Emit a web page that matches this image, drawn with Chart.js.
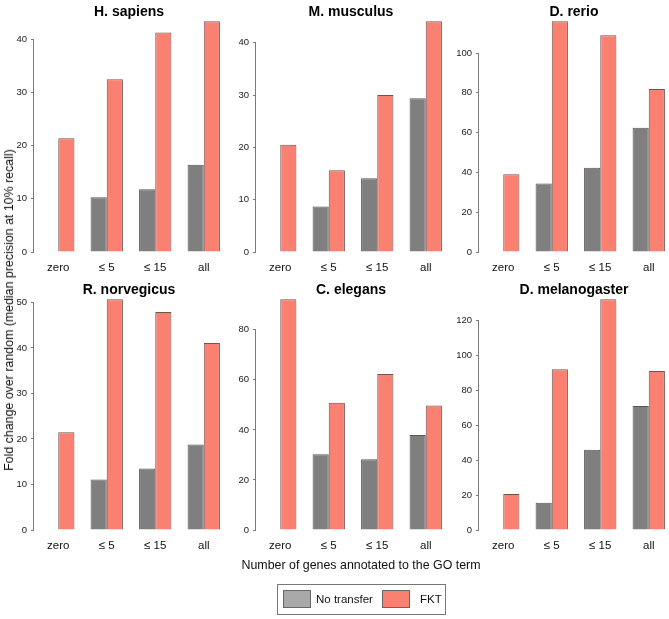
<!DOCTYPE html>
<html>
<head>
<meta charset="utf-8">
<script src="https://cdn.jsdelivr.net/npm/chart.js@4.4.1/dist/chart.umd.min.js"></script>
<style>
  body { margin: 0; background: #fff; overflow: hidden; }
  #wrap { position: relative; width: 669px; height: 619px; overflow: hidden; font-family: "Liberation Sans", Arial, sans-serif; }
  #wrap canvas { position: absolute; }
  .ytitle { position: absolute; left: 9px; top: 310px; transform: translate(-50%, -50%) rotate(-90deg); white-space: nowrap; font-size: 12.4px; color: #111; }
  .xtitle { position: absolute; left: 361px; top: 565px; transform: translate(-50%, -50%); white-space: nowrap; font-size: 12.4px; color: #111; }
  .legend { position: absolute; left: 277px; top: 584px; width: 169px; height: 31px; border: 1px solid #777; box-sizing: border-box; font-size: 11.5px; color: #111; }
  .legend span { position: absolute; top: 5px; width: 28px; height: 18px; border: 1px solid #666; box-sizing: border-box; }
  .legend b { position: absolute; top: 8px; font-weight: normal; }
</style>
</head>
<body>
<div id="wrap">
  <canvas id="c0" width="228" height="276"></canvas>
  <canvas id="c1" width="228" height="276"></canvas>
  <canvas id="c2" width="228" height="276"></canvas>
  <canvas id="c3" width="228" height="276"></canvas>
  <canvas id="c4" width="228" height="276"></canvas>
  <canvas id="c5" width="228" height="276"></canvas>
  <div class="ytitle">Fold change over random (median precision at 10% recall)</div>
  <div class="xtitle">Number of genes annotated to the GO term</div>
  <div class="legend" id="legend"></div>
</div>
<script>
// data
var categories = ["zero", "\u2264 5", "\u2264 15", "all"];
var species = ["H. sapiens", "M. musculus", "D. rerio", "R. norvegicus", "C. elegans", "D. melanogaster"];
var seriesNames = ["No transfer", "FKT"];

var noTransfer = [
  [null, 10.3, 11.8, 16.4],
  [null, 8.7, 14.1, 29.4],
  [null, 34.4, 42.4, 62.4],
  [null, 11.1, 13.5, 18.8],
  [null, 30.3, 28.3, 38.0],
  [null, 15.6, 45.9, 70.9]
];
var fkt = [
  [21.4, 32.5, 41.3, 43.4],
  [20.5, 15.6, 30.0, 44.1],
  [39.1, 116, 109, 81.9],
  [21.5, 50.7, 47.9, 41.1],
  [92.2, 50.8, 62.3, 49.7],
  [20.6, 92.0, 132, 90.9]
];
var yTicks = [
  [0, 10, 20, 30, 40],
  [0, 10, 20, 30, 40],
  [0, 20, 40, 60, 80, 100],
  [0, 10, 20, 30, 40, 50],
  [0, 20, 40, 60, 80],
  [0, 20, 40, 60, 80, 100, 120]
];

var barColors = ['#7f7f7f', '#fa8072'];
var legendColors = ['#a9a9a9', '#fa8072'];

// panel placement (canvas top-left)
var canvasLeft = [0, 222, 445];
var canvasTop = [0, 278];

var panelTitle = {
  id: 'panelTitle',
  afterDraw: function(chart, args, opts) {
    var a = chart.chartArea;
    var ctx = chart.ctx;
    ctx.save();
    ctx.font = 'bold 14px "Liberation Sans", Arial, sans-serif';
    ctx.fillStyle = '#000';
    ctx.textAlign = 'center';
    ctx.textBaseline = 'alphabetic';
    ctx.fillText(opts.text, (a.left + a.right) / 2 - 2, a.top + 4);
    ctx.restore();
  }
};

// R style axis line: only from first to last tick
var axisLine = {
  id: 'axisLine',
  afterDraw: function(chart) {
    var y = chart.scales.y;
    var ctx = chart.ctx;
    var x = Math.round(chart.chartArea.left) - 0.5;
    ctx.save();
    ctx.strokeStyle = '#7a7a7a';
    ctx.lineWidth = 1;
    ctx.beginPath();
    ctx.moveTo(x, y.getPixelForValue(y.ticks[0].value));
    ctx.lineTo(x, y.getPixelForValue(y.ticks[y.ticks.length - 1].value));
    ctx.stroke();
    ctx.restore();
  }
};

var i;
for (i = 0; i < 6; i++) {
  var cv = document.getElementById("c" + i);
  cv.style.left = canvasLeft[i % 3] + "px";
  cv.style.top = canvasTop[Math.floor(i / 3)] + "px";
  var peak = Math.max.apply(null, fkt[i].concat(noTransfer[i].filter(function(v) { return v !== null; })));

  (function(idx, yMax) {
    new Chart(cv, {
      type: 'bar',
      data: {
        labels: categories,
        datasets: [{
          label: seriesNames[0],
          data: noTransfer[idx],
          backgroundColor: barColors[0],
          borderColor: 'rgba(70,50,50,0.85)',
          borderWidth: 1
        }, {
          label: seriesNames[1],
          data: fkt[idx],
          backgroundColor: barColors[1],
          borderColor: 'rgba(90,50,50,0.85)',
          borderWidth: 1
        }]
      },
      options: {
        responsive: false,
        animation: false,
        devicePixelRatio: 1,
        layout: { padding: { top: 12, right: 0, left: 0, bottom: 0 } },
        datasets: { bar: { categoryPercentage: 2 / 3, barPercentage: 1 } },
        plugins: {
          legend: { display: false },
          tooltip: { enabled: false },
          panelTitle: { text: species[idx] }
        },
        scales: {
          x: {
            offset: true,
            grid: { display: false },
            border: { display: false },
            ticks: { color: '#111', font: { size: 11.5, family: '"Liberation Sans", Arial, sans-serif' }, padding: 1, maxRotation: 0, autoSkip: false },
            afterFit: function(s) { s.height = 24; }
          },
          y: {
            min: 0,
            max: yMax,
            grid: { drawOnChartArea: false, drawTicks: true, tickLength: 3, color: '#7a7a7a' },
            border: { display: false },
            ticks: { color: '#222', font: { size: 9.5, family: '"Liberation Sans", Arial, sans-serif' }, padding: 4 },
            afterBuildTicks: function(s) {
              s.ticks = yTicks[idx].map(function(v) { return { value: v }; });
            },
            afterFit: function(s) { s.width = 34; }
          }
        }
      },
      plugins: [panelTitle, axisLine]
    });
  })(i, peak * 1.04);
}

// legend
var lg = document.getElementById("legend");
var swatchX = [5, 104];
var textX = [38, 142];
for (i = 0; i < seriesNames.length; i++) {
  var sw = document.createElement("span");
  sw.style.left = swatchX[i] + "px";
  sw.style.background = legendColors[i];
  lg.appendChild(sw);
  var t = document.createElement("b");
  t.style.left = textX[i] + "px";
  t.textContent = seriesNames[i];
  lg.appendChild(t);
}
</script>
</body>
</html>
